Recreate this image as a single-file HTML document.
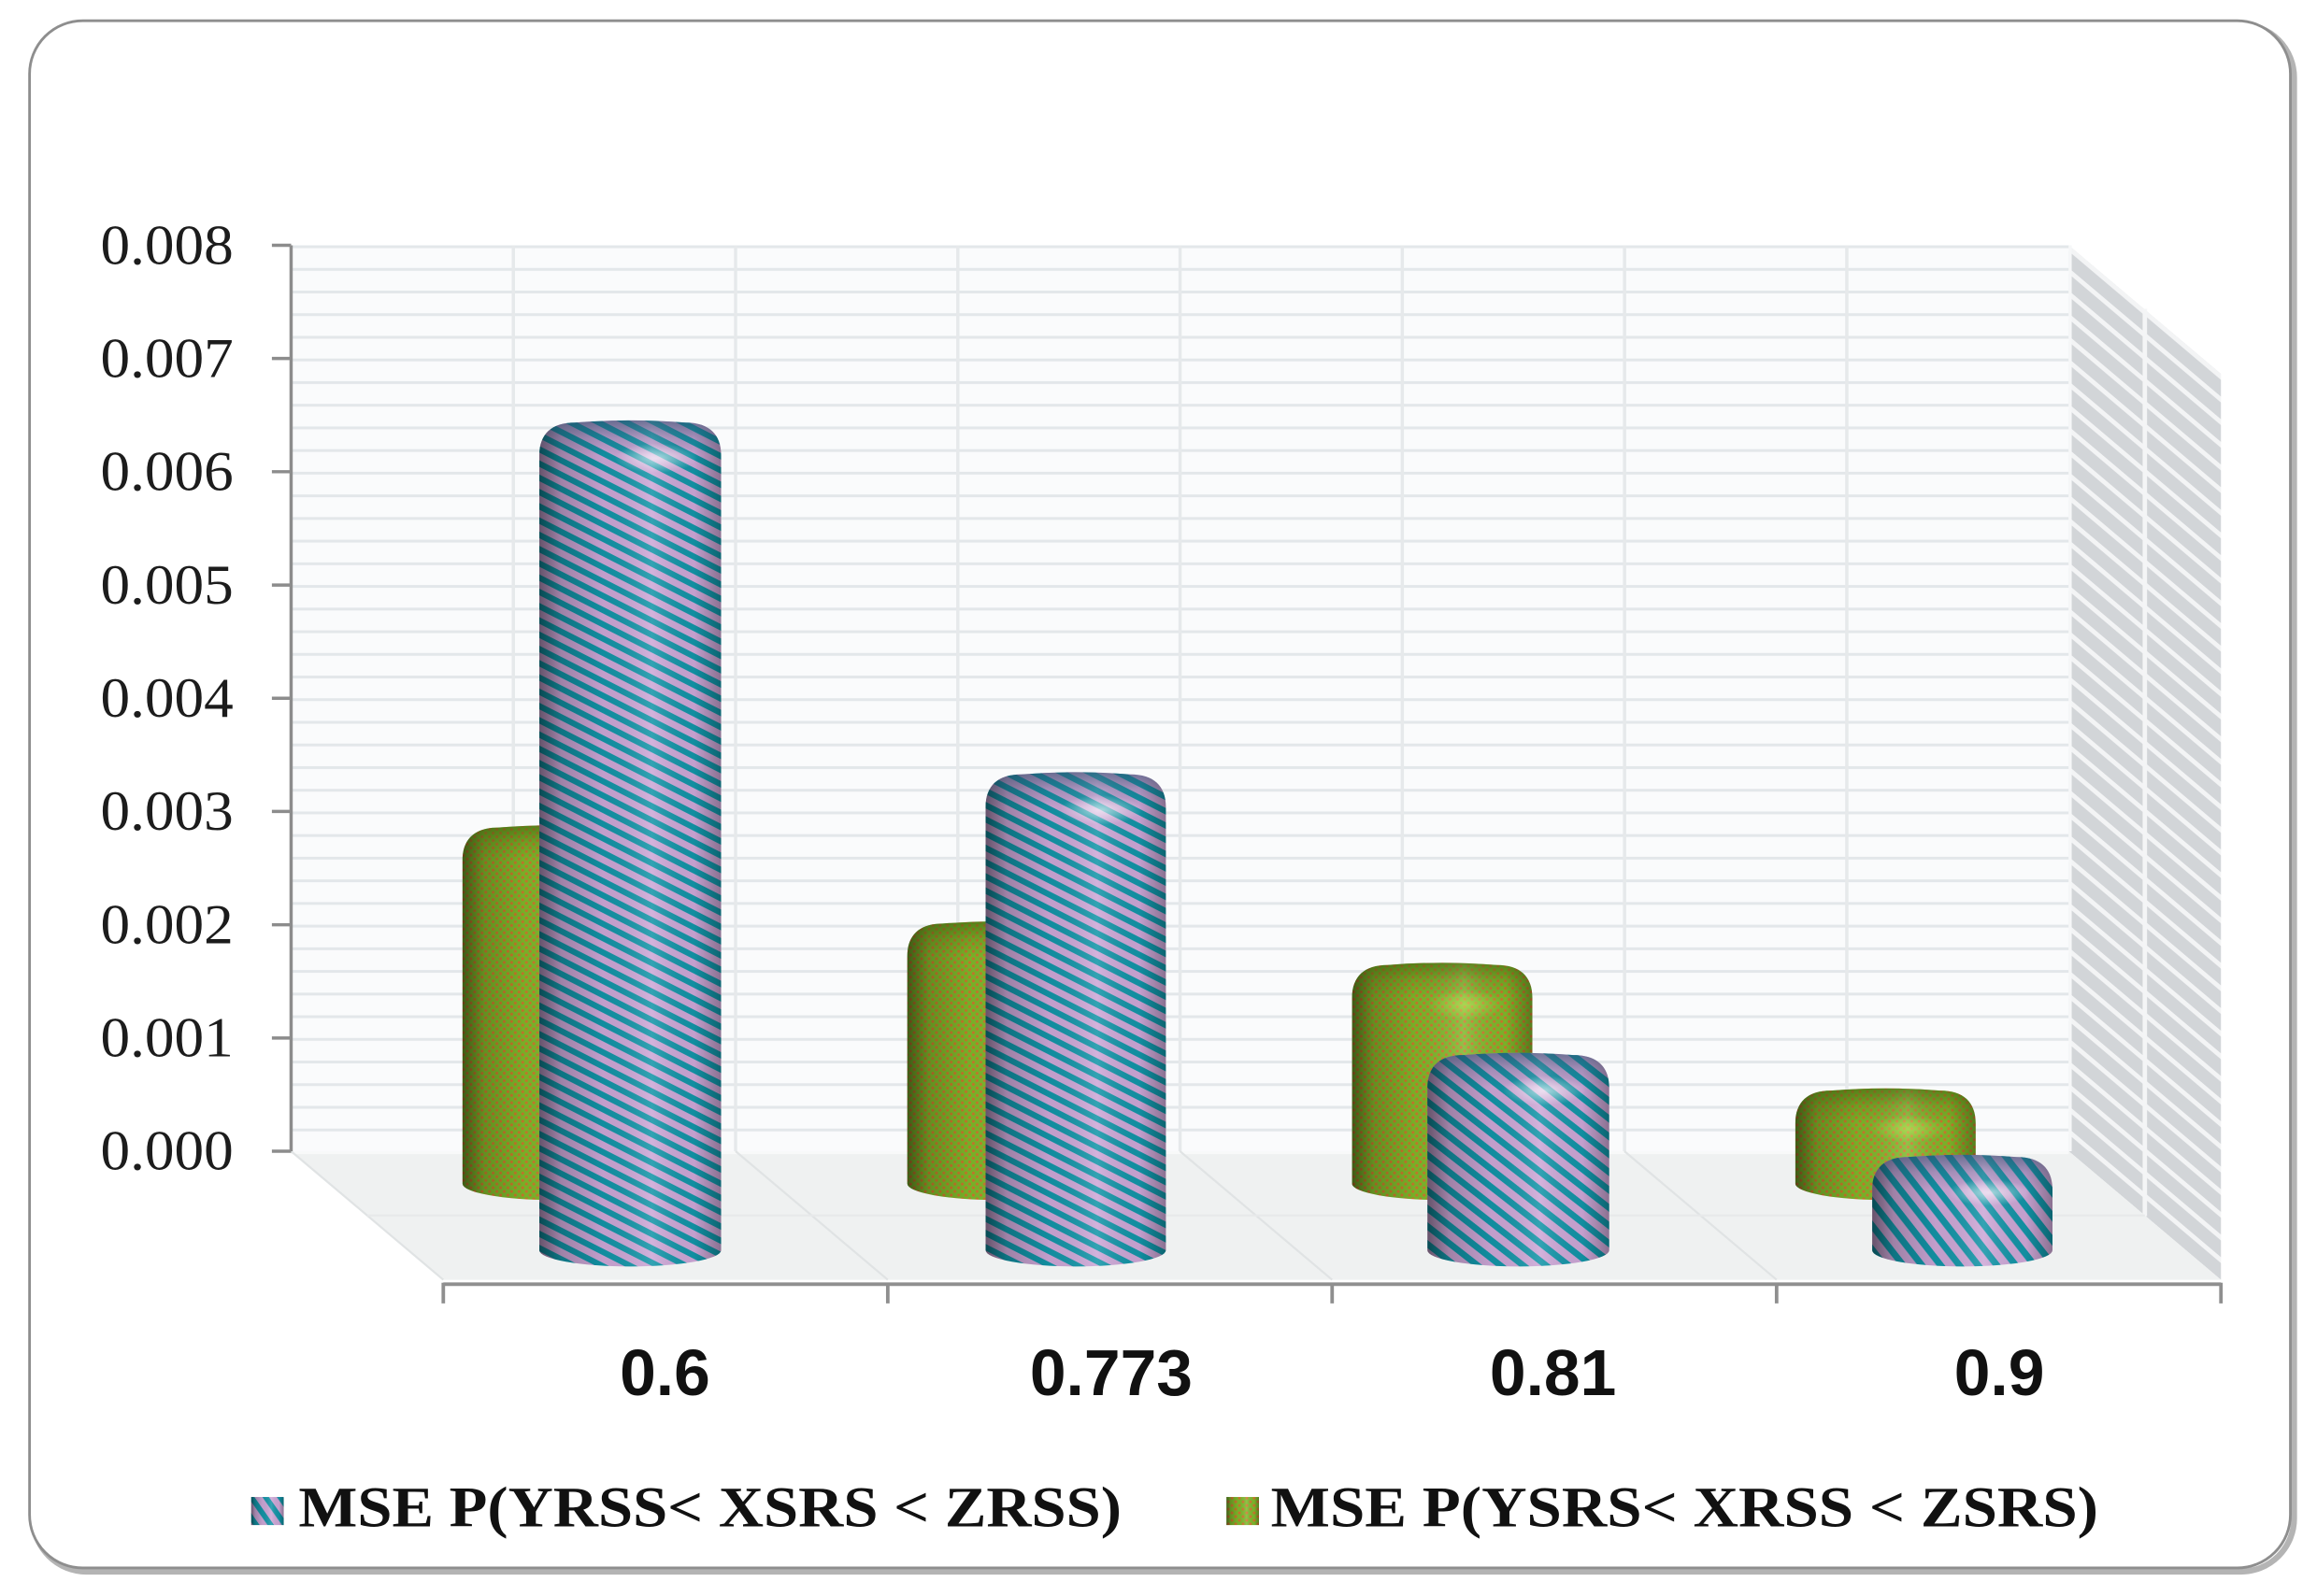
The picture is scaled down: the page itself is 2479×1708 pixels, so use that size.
<!DOCTYPE html>
<html>
<head>
<meta charset="utf-8">
<style>
  html,body{margin:0;padding:0;background:#ffffff;}
  svg{display:block;}
</style>
</head>
<body>
<svg xmlns="http://www.w3.org/2000/svg" width="2479" height="1708" viewBox="0 0 1568 1080" preserveAspectRatio="none">
  <defs>
    <pattern id="bw" patternUnits="userSpaceOnUse" width="1400" height="15.325" patternTransform="translate(197,166)">
      <rect width="1400" height="15.325" fill="#fafbfc"/>
      <rect y="0" width="1400" height="1.9" fill="#e3e7ea"/>
    </pattern>
    <pattern id="sw" patternUnits="userSpaceOnUse" width="200" height="15.325" patternTransform="translate(1400,166) skewY(40.2)">
      <rect width="200" height="15.325" fill="#d2d5d8"/>
      <rect width="200" height="4" fill="#f3f4f5"/>
    </pattern>
    <pattern id="st1" patternUnits="userSpaceOnUse" width="60" height="8.6" patternTransform="rotate(27)">
      <rect width="60" height="8.6" fill="#cca6d6"/>
      <rect width="60" height="4.0" fill="#1294a7"/>
    </pattern>
    <pattern id="st3" patternUnits="userSpaceOnUse" width="60" height="9.5" patternTransform="rotate(38)">
      <rect width="60" height="9.5" fill="#cca6d6"/>
      <rect width="60" height="4.3" fill="#1294a7"/>
    </pattern>
    <pattern id="st4" patternUnits="userSpaceOnUse" width="60" height="10" patternTransform="rotate(52)">
      <rect width="60" height="10" fill="#cca6d6"/>
      <rect width="60" height="4.5" fill="#1294a7"/>
    </pattern>
    <pattern id="stL" patternUnits="userSpaceOnUse" width="40" height="8" patternTransform="rotate(55)">
      <rect width="40" height="8" fill="#cca6d6"/>
      <rect width="40" height="3.6" fill="#1294a7"/>
    </pattern>
    <pattern id="gd" patternUnits="userSpaceOnUse" width="5" height="5">
      <rect width="5" height="5" fill="#7eb82a"/>
      <circle cx="1.25" cy="1.25" r="0.95" fill="#d0762c"/>
      <circle cx="3.75" cy="3.75" r="0.95" fill="#d0762c"/>
    </pattern>
    <linearGradient id="shade" x1="0" y1="0" x2="1" y2="0">
      <stop offset="0" stop-color="#000" stop-opacity="0.5"/>
      <stop offset="0.12" stop-color="#000" stop-opacity="0.22"/>
      <stop offset="0.35" stop-color="#000" stop-opacity="0.05"/>
      <stop offset="0.62" stop-color="#fff" stop-opacity="0.14"/>
      <stop offset="0.85" stop-color="#000" stop-opacity="0.04"/>
      <stop offset="1" stop-color="#000" stop-opacity="0.32"/>
    </linearGradient>
    <linearGradient id="capB" x1="0" y1="0" x2="0" y2="1">
      <stop offset="0" stop-color="#2f4c6c" stop-opacity="0.6"/>
      <stop offset="0.5" stop-color="#2f4c6c" stop-opacity="0.2"/>
      <stop offset="1" stop-color="#2f4c6c" stop-opacity="0"/>
    </linearGradient>
    <linearGradient id="capG" x1="0" y1="0" x2="0" y2="1">
      <stop offset="0" stop-color="#3d5a0c" stop-opacity="0.55"/>
      <stop offset="0.5" stop-color="#3d5a0c" stop-opacity="0.18"/>
      <stop offset="1" stop-color="#3d5a0c" stop-opacity="0"/>
    </linearGradient>
    <radialGradient id="hl" cx="0.5" cy="0.5" r="0.5">
      <stop offset="0" stop-color="#ffffff" stop-opacity="0.6"/>
      <stop offset="1" stop-color="#ffffff" stop-opacity="0"/>
    </radialGradient>
    <radialGradient id="hlg" cx="0.5" cy="0.5" r="0.5">
      <stop offset="0" stop-color="#c8f060" stop-opacity="0.45"/>
      <stop offset="1" stop-color="#c8f060" stop-opacity="0"/>
    </radialGradient>

    <path id="g1" d="M313,582 C313,567.7 321.4,560 337,560 Q374,557 411,560 C426.6,560 435,567.7 435,582 L435,801 A61,11 0 0 1 313,801 Z"/>
    <path id="g2" d="M614,647 C614,632.7 622.4,625 638,625 Q675,622 712,625 C727.6,625 736,632.7 736,647 L736,801 A61,11 0 0 1 614,801 Z"/>
    <path id="g3" d="M915,675 C915,660.7 923.4,653 939,653 Q976,650 1013,653 C1028.6,653 1037,660.7 1037,675 L1037,801 A61,11 0 0 1 915,801 Z"/>
    <path id="g4" d="M1215,760 C1215,745.7 1223.4,738 1239,738 Q1276,735 1313,738 C1328.6,738 1337,745.7 1337,760 L1337,801 A61,11 0 0 1 1215,801 Z"/>
    <path id="b1" d="M365,308 C365,293.7 373.4,286 389,286 Q426.5,283 464,286 C479.6,286 488,293.7 488,308 L488,846 A61.5,11 0 0 1 365,846 Z"/>
    <path id="b2" d="M667,546 C667,531.7 675.4,524 691,524 Q728,521 765,524 C780.6,524 789,531.7 789,546 L789,846 A61,11 0 0 1 667,846 Z"/>
    <path id="b3" d="M966,736 C966,721.7 974.4,714 990,714 Q1027.5,711 1065,714 C1080.6,714 1089,721.7 1089,736 L1089,846 A61.5,11 0 0 1 966,846 Z"/>
    <path id="b4" d="M1267,805 C1267,790.7 1275.4,783 1291,783 Q1328,780 1365,783 C1380.6,783 1389,790.7 1389,805 L1389,846 A61,11 0 0 1 1267,846 Z"/>
  </defs>

  <rect x="22.5" y="16.5" width="1530" height="1047" rx="36" ry="36" fill="none" stroke="#b4b4b4" stroke-width="4"/>
  <rect x="20" y="14" width="1530" height="1047" rx="36" ry="36" fill="#ffffff" stroke="#8e8e8e" stroke-width="1.8"/>

  <rect x="197" y="166" width="1203" height="613" fill="url(#bw)"/>
  <g stroke="#e6e9eb" stroke-width="2.2">
    <line x1="347.4" y1="166" x2="347.4" y2="779"/>
    <line x1="497.8" y1="166" x2="497.8" y2="779"/>
    <line x1="648.2" y1="166" x2="648.2" y2="779"/>
    <line x1="798.6" y1="166" x2="798.6" y2="779"/>
    <line x1="949" y1="166" x2="949" y2="779"/>
    <line x1="1099.4" y1="166" x2="1099.4" y2="779"/>
    <line x1="1249.8" y1="166" x2="1249.8" y2="779"/>
  </g>

  <polygon points="1400,166 1503,253 1503,866 1400,779" fill="url(#sw)"/>
  <line x1="1451.5" y1="209" x2="1451.5" y2="823" stroke="#f4f5f6" stroke-width="3"/>
  <line x1="1401" y1="166" x2="1401" y2="779" stroke="#f6f7f8" stroke-width="2"/>

  <polygon points="197,779 1400,779 1503,866 300,866" fill="#eff1f1"/>
  <line x1="197" y1="780" x2="1400" y2="780" stroke="#f8f9f9" stroke-width="2"/>
  <g stroke="#e0e3e4" stroke-width="1.4">
    <line x1="197" y1="779" x2="300" y2="866"/>
    <line x1="497.8" y1="779" x2="600.8" y2="866"/>
    <line x1="798.5" y1="779" x2="901.5" y2="866"/>
    <line x1="1099.3" y1="779" x2="1202.3" y2="866"/>
    <line x1="248.5" y1="822.5" x2="1451.5" y2="822.5" stroke="#e7e9ea"/>
  </g>

  <use href="#g1" fill="url(#gd)"/><use href="#g1" fill="url(#shade)"/>
  <use href="#g2" fill="url(#gd)"/><use href="#g2" fill="url(#shade)"/>
  <use href="#g3" fill="url(#gd)"/><use href="#g3" fill="url(#shade)"/>
  <use href="#g4" fill="url(#gd)"/><use href="#g4" fill="url(#shade)"/>
  <path d="M313,582 C313,567.7 321.4,560 337,560 Q374,557 411,560 C426.6,560 435,567.7 435,582 Z" fill="url(#capG)"/>
  <path d="M614,647 C614,632.7 622.4,625 638,625 Q675,622 712,625 C727.6,625 736,632.7 736,647 Z" fill="url(#capG)"/>
  <path d="M915,675 C915,660.7 923.4,653 939,653 Q976,650 1013,653 C1028.6,653 1037,660.7 1037,675 Z" fill="url(#capG)"/>
  <path d="M1215,760 C1215,745.7 1223.4,738 1239,738 Q1276,735 1313,738 C1328.6,738 1337,745.7 1337,760 Z" fill="url(#capG)"/>
  <ellipse cx="992" cy="680" rx="26" ry="10" fill="url(#hlg)"/>
  <ellipse cx="1292" cy="764" rx="26" ry="9" fill="url(#hlg)"/>
  <ellipse cx="391" cy="586" rx="24" ry="10" fill="url(#hlg)"/>
  <ellipse cx="692" cy="651" rx="24" ry="10" fill="url(#hlg)"/>

  <use href="#b1" fill="url(#st1)"/><use href="#b1" fill="url(#shade)"/>
  <use href="#b2" fill="url(#st1)"/><use href="#b2" fill="url(#shade)"/>
  <use href="#b3" fill="url(#st3)"/><use href="#b3" fill="url(#shade)"/>
  <use href="#b4" fill="url(#st4)"/><use href="#b4" fill="url(#shade)"/>
  <path d="M365,308 C365,293.7 373.4,286 389,286 Q426.5,283 464,286 C479.6,286 488,293.7 488,308 Z" fill="url(#capB)"/>
  <path d="M667,546 C667,531.7 675.4,524 691,524 Q728,521 765,524 C780.6,524 789,531.7 789,546 Z" fill="url(#capB)"/>
  <path d="M966,736 C966,721.7 974.4,714 990,714 Q1027.5,711 1065,714 C1080.6,714 1089,721.7 1089,736 Z" fill="url(#capB)"/>
  <path d="M1267,805 C1267,790.7 1275.4,783 1291,783 Q1328,780 1365,783 C1380.6,783 1389,790.7 1389,805 Z" fill="url(#capB)"/>
  <ellipse cx="444" cy="310" rx="28" ry="10" fill="url(#hl)"/>
  <ellipse cx="745" cy="548" rx="28" ry="10" fill="url(#hl)"/>
  <ellipse cx="1045" cy="738" rx="28" ry="10" fill="url(#hl)"/>
  <ellipse cx="1346" cy="807" rx="28" ry="9" fill="url(#hl)"/>

  <g stroke="#8c8c8c" stroke-width="2.2" fill="none">
    <line x1="197" y1="166" x2="197" y2="779"/>
    <line x1="184" y1="166" x2="197" y2="166"/>
    <line x1="184" y1="242.6" x2="197" y2="242.6"/>
    <line x1="184" y1="319.2" x2="197" y2="319.2"/>
    <line x1="184" y1="395.9" x2="197" y2="395.9"/>
    <line x1="184" y1="472.5" x2="197" y2="472.5"/>
    <line x1="184" y1="549.1" x2="197" y2="549.1"/>
    <line x1="184" y1="625.8" x2="197" y2="625.8"/>
    <line x1="184" y1="702.4" x2="197" y2="702.4"/>
    <line x1="184" y1="779" x2="197" y2="779"/>
  </g>
  <g font-family="'Liberation Serif', 'Times New Roman', serif" font-size="38" fill="#1c1c1c" text-anchor="end">
    <text x="158" y="178.5" textLength="90" lengthAdjust="spacingAndGlyphs">0.008</text>
    <text x="158" y="255.1" textLength="90" lengthAdjust="spacingAndGlyphs">0.007</text>
    <text x="158" y="331.7" textLength="90" lengthAdjust="spacingAndGlyphs">0.006</text>
    <text x="158" y="408.4" textLength="90" lengthAdjust="spacingAndGlyphs">0.005</text>
    <text x="158" y="485" textLength="90" lengthAdjust="spacingAndGlyphs">0.004</text>
    <text x="158" y="561.6" textLength="90" lengthAdjust="spacingAndGlyphs">0.003</text>
    <text x="158" y="638.3" textLength="90" lengthAdjust="spacingAndGlyphs">0.002</text>
    <text x="158" y="714.9" textLength="90" lengthAdjust="spacingAndGlyphs">0.001</text>
    <text x="158" y="791.5" textLength="90" lengthAdjust="spacingAndGlyphs">0.000</text>
  </g>

  <g stroke="#8f8f8f" stroke-width="2.4" fill="none">
    <line x1="300" y1="869" x2="1503" y2="869"/>
    <line x1="300" y1="868" x2="300" y2="882"/>
    <line x1="600.8" y1="868" x2="600.8" y2="882"/>
    <line x1="901.5" y1="868" x2="901.5" y2="882"/>
    <line x1="1202.3" y1="868" x2="1202.3" y2="882"/>
    <line x1="1503" y1="868" x2="1503" y2="882"/>
  </g>
  <g font-family="'Liberation Sans', Arial, sans-serif" font-size="44" font-weight="bold" fill="#111" text-anchor="middle">
    <text x="450" y="944">0.6</text>
    <text x="752" y="944">0.773</text>
    <text x="1051" y="944">0.81</text>
    <text x="1353" y="944">0.9</text>
  </g>

  <rect x="170" y="1013" width="22" height="19" fill="url(#stL)"/>
  <rect x="170" y="1013" width="22" height="19" fill="url(#shade)"/>
  <rect x="830" y="1013" width="22" height="19" fill="url(#gd)"/>
  <rect x="830" y="1013" width="22" height="19" fill="url(#shade)"/>
  <g font-family="'Liberation Serif', 'Times New Roman', serif" font-size="39" font-weight="bold" fill="#111">
    <text x="202" y="1033" textLength="557" lengthAdjust="spacingAndGlyphs">MSE P(YRSS&lt; XSRS &lt; ZRSS)</text>
    <text x="860" y="1033" textLength="560" lengthAdjust="spacingAndGlyphs">MSE P(YSRS&lt; XRSS &lt; ZSRS)</text>
  </g>
</svg>
</body>
</html>
